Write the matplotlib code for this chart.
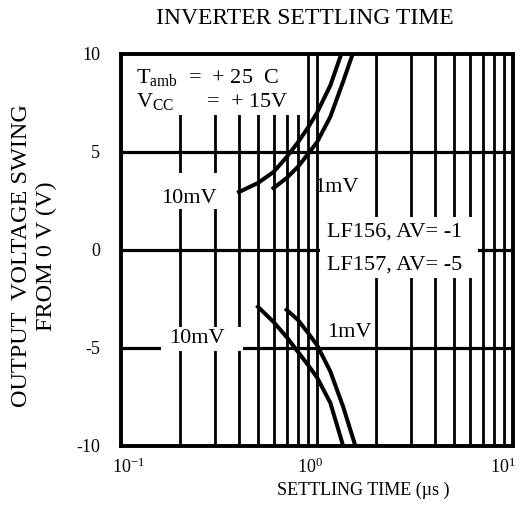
import matplotlib
matplotlib.use("Agg")
import matplotlib.pyplot as plt
import matplotlib.transforms as mtransforms
from matplotlib.patches import Rectangle
from matplotlib.ticker import NullLocator, LogFormatterMathtext

plt.rcParams['font.family'] = 'Liberation Serif'
plt.rcParams['mathtext.fontset'] = 'custom'
plt.rcParams['mathtext.rm'] = 'Liberation Serif'
plt.rcParams['mathtext.it'] = 'Liberation Serif:italic'
plt.rcParams['mathtext.bf'] = 'Liberation Serif:bold'
plt.rcParams['axes.unicode_minus'] = False

## settling curves (time in us, output swing in V)
pos_10mv_t = [0.40, 0.50, 0.60, 0.70, 0.80, 0.90, 1.00, 1.17, 1.33]
pos_10mv_v = [2.96, 3.42, 3.98, 4.74, 5.50, 6.25, 7.00, 8.40, 10.0]
pos_1mv_t = [0.60, 0.70, 0.80, 0.90, 1.00, 1.17, 1.36, 1.52]
pos_1mv_v = [3.16, 3.67, 4.25, 4.90, 5.50, 6.80, 8.60, 10.0]
neg_10mv_t = [0.50, 0.60, 0.70, 0.80, 0.90, 1.00, 1.17, 1.36]
neg_10mv_v = [-2.90, -3.67, -4.44, -5.20, -5.87, -6.50, -7.80, -10.0]
neg_1mv_t = [0.70, 0.80, 0.90, 1.00, 1.17, 1.36, 1.57]
neg_1mv_v = [-3.05, -3.57, -4.23, -4.85, -6.20, -8.00, -10.0]

x_ticks = [0.1, 1, 10]
y_ticks = [-10, -5, 0, 5, 10]
grid_x = [0.2, 0.3, 0.4, 0.5, 0.6, 0.7, 0.8, 0.9, 1, 2, 3, 4, 5, 6, 7, 8, 9]
grid_y = [-5, 0, 5]

fig = plt.figure(figsize=(5.21, 5.13), dpi=100)
ax = fig.add_axes([121/521, 1-446/513, 392/521, 392/513])
ax.set_xscale('log')
ax.set_xlim(0.1, 10)
ax.set_ylim(-10, 10)

# grid drawn by hand, the datasheet grid is broken where labels sit
ax.vlines(grid_x, -10, 10, color='k', lw=2.0, zorder=1)
ax.hlines(grid_y, 0.1, 10, color='k', lw=2.3, zorder=1)

# white blanks behind the labels (x0, x1, y0, y1)
blanks = [(0.1, 0.85, 6.9, 10), (0.15, 0.35, 2.1, 3.95),
          (1.03, 6.6, -1.45, 1.7), (0.16, 0.42, -5.15, -3.95)]
for x0, x1, y0, y1 in blanks:
    ax.add_patch(Rectangle((x0, y0), x1-x0, y1-y0, facecolor='white',
                           edgecolor='none', zorder=2))

for t, v in [(pos_10mv_t, pos_10mv_v), (pos_1mv_t, pos_1mv_v),
             (neg_10mv_t, neg_10mv_v), (neg_1mv_t, neg_1mv_v)]:
    ax.plot(t, v, color='k', lw=2.9, zorder=4, solid_joinstyle='round')

fs = 16
ax.text(0.119, 8.78, r'T$_{\rm amb}$  =  + 25  C', fontsize=fs, va='center', zorder=6)
ax.text(0.119, 7.6, r'V$_{\rm CC}$      =  + 15V', fontsize=fs, va='center', zorder=6)
ax.text(0.223, 2.65, '10mV', fontsize=fs, ha='center', va='center', zorder=6)
ax.text(1.26, 3.2, '1mV', fontsize=fs, ha='center', va='center', zorder=6)
ax.text(1.12, 0.92, 'LF156, AV= -1', fontsize=fs, va='center', zorder=6)
ax.text(1.12, -0.77, 'LF157, AV= -5', fontsize=fs, va='center', zorder=6)
ax.text(0.245, -4.5, '10mV', fontsize=fs, ha='center', va='center', zorder=6)
ax.text(1.47, -4.23, '1mV', fontsize=fs, ha='center', va='center', zorder=6)

ax.set_xticks(x_ticks)
ax.xaxis.set_minor_locator(NullLocator())
ax.xaxis.set_major_formatter(LogFormatterMathtext())
ax.set_yticks(y_ticks)
ax.tick_params(axis='both', length=0, labelsize=13)
ax.tick_params(axis='y', pad=15)
ax.tick_params(axis='x', pad=8)
for s in ax.spines.values():
    s.set_linewidth(2.8)
    s.set_zorder(5)

# the printed x labels sit a little off their gridlines
for lab, dx in zip(ax.get_xticklabels(), [7, -7, -10]):
    lab.set_transform(lab.get_transform() +
                      mtransforms.ScaledTranslation(dx/100, 0, fig.dpi_scale_trans))

fig.text(305/521, 1-19/513, 'INVERTER SETTLING TIME', fontsize=17,
         ha='center', va='center')
fig.text(34/521, 1-256/513, 'OUTPUT  VOLTAGE SWING\nFROM 0 V (V)', fontsize=17.5,
         rotation=90, ha='center', va='center', multialignment='center',
         linespacing=1.25)
fig.text(363/521, 1-490/513, 'SETTLING TIME (\u00b5s )', fontsize=13,
         ha='center', va='center')

fig.savefig('out.png', dpi=100)
